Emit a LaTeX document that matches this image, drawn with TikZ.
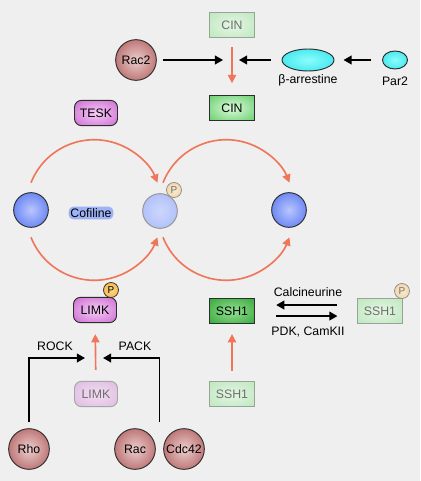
\documentclass[tikz,border=0pt]{standalone}
\usepackage{fontspec}
\setmainfont{Liberation Sans}
\usetikzlibrary{arrows.meta,calc}
\definecolor{bggray}{RGB}{239,239,239}
\definecolor{edgegray}{RGB}{45,45,45}
\definecolor{fadeedge}{RGB}{150,165,150}
\definecolor{fadetext}{RGB}{110,110,110}
\definecolor{actred}{RGB}{240,118,90}
\definecolor{gtpin}{RGB}{236,206,206}
\definecolor{gtpout}{RGB}{160,62,62}
\definecolor{cofin}{RGB}{185,198,255}
\definecolor{cofout}{RGB}{60,96,235}
\definecolor{cofpin}{RGB}{205,214,252}
\definecolor{cofpout}{RGB}{160,180,248}
\definecolor{cofglow}{RGB}{158,178,246}
\definecolor{kinin}{RGB}{246,204,246}
\definecolor{kinout}{RGB}{196,90,202}
\definecolor{kinfin}{RGB}{242,222,242}
\definecolor{kinfout}{RGB}{218,180,222}
\definecolor{grnin}{RGB}{220,250,220}
\definecolor{grnout}{RGB}{84,200,90}
\definecolor{sshin}{RGB}{150,226,150}
\definecolor{sshout}{RGB}{36,158,40}
\definecolor{grnfin}{RGB}{228,246,228}
\definecolor{grnfout}{RGB}{184,228,184}
\definecolor{cyanin}{RGB}{140,252,252}
\definecolor{cyanout}{RGB}{30,222,232}
\definecolor{pin}{RGB}{253,220,140}
\definecolor{pout}{RGB}{240,160,36}
\definecolor{pfin}{RGB}{250,234,206}
\definecolor{pfout}{RGB}{236,204,152}
\colorlet{softin}{white}
\colorlet{softout}{white}
\pgfdeclareradialshading[softin,softout]{soft}{\pgfpointorigin}{color(0bp)=(softin);color(42bp)=(softout);color(50bp)=(softout)}
\newcommand\lblfont{\fontsize{10.5}{12}\selectfont}
\tikzset{
  soft/.style 2 args={/utils/exec={\colorlet{softin}{#1}\colorlet{softout}{#2}},shading=soft},
  gtpase/.style={circle,draw=edgegray,line width=0.8pt,soft={gtpin}{gtpout},minimum size=1.22cm,inner sep=0pt,font=\lblfont},
  kinase/.style={draw=edgegray,line width=0.8pt,rounded corners=6pt,soft={kinin}{kinout},minimum width=1.29cm,minimum height=0.76cm,inner sep=0pt,font=\lblfont},
  kinoff/.style={kinase,draw=gray!70,soft={kinfin}{kinfout},text=fadetext},
  greenbox/.style={draw=edgegray,line width=0.8pt,soft={grnin}{grnout},minimum width=1.33cm,minimum height=0.76cm,inner sep=0pt,font=\lblfont},
  sshbox/.style={greenbox,soft={sshin}{sshout}},
  greenoff/.style={greenbox,draw=fadeedge,soft={grnfin}{grnfout},text=fadetext},
  cof/.style={circle,draw=edgegray,line width=0.8pt,soft={cofin}{cofout},minimum size=1.04cm,inner sep=0pt},
  cofoff/.style={cof,draw=gray!85,soft={cofpin}{cofpout}},
  arrestin/.style={ellipse,draw=edgegray,line width=0.8pt,soft={cyanin}{cyanout},inner sep=0pt},
  pbadge/.style={circle,draw=edgegray,line width=0.6pt,soft={pin}{pout},minimum size=0.45cm,inner sep=0pt,font=\fontsize{8.5}{9}\selectfont},
  pbadgeoff/.style={pbadge,draw=gray!90,soft={pfin}{pfout},text=fadetext},
  lbl/.style={font=\lblfont,inner sep=0pt},
  glow/.style={fill=cofglow,rounded corners=4pt,inner sep=1.6pt,font=\lblfont},
  sig/.style={-{Triangle[length=7pt,width=7.5pt]},line width=1.5pt,black},
  act/.style={-{Triangle[length=7pt,width=7pt]},line width=1.4pt,actred}
}
\usetikzlibrary{shapes.geometric}
\begin{document}
\begin{tikzpicture}[x=0.03cm,y=-0.03cm]
\fill[bggray] (0,0) rectangle (420,481);
% CIN activation
\node[greenoff] (cinoff) at (232,25) {CIN};
\node[greenbox] (cinon) at (232,108) {CIN};
\node[gtpase] (rac2) at (136,60) {Rac2};
\node[arrestin,minimum width=1.56cm,minimum height=0.66cm] (barr) at (308,60) {};
\node[lbl] (barrlbl) at (308,80) {β-arrestine};
\node[arrestin,minimum width=0.75cm,minimum height=0.54cm] (par2) at (395,60) {};
\node[lbl] (par2lbl) at (395,81) {Par2};
\coordinate (cinjoin) at (231,60);
\draw[sig,shorten <=5pt,shorten >=6.8pt] (rac2) -- (cinjoin);
\draw[sig,shorten <=9.4pt,shorten >=6.8pt] (barr) -- (cinjoin);
\draw[sig,shorten <=9.4pt,shorten >=7.7pt] (par2) -- (barr);
\draw[act,shorten <=7.7pt,shorten >=10pt] (cinoff) -- (cinon);
\node[kinase] (tesk) at (96,113) {TESK};
% cofiline cycle
\node[cof] (cofa) at (31,210) {};
\node[cofoff] (cofp) at (160,211) {};
\node[pbadgeoff] (pcof) at (174,190) {P};
\node[cof] (cofb) at (289,210) {};
\node[glow] (coflbl) at (91,213) {Cofiline};
\draw[act] ($(cofa.north)+(0,-9.5)$) arc[start angle=201.6,end angle=338.4,radius=68];
\draw[act] ($(cofa.south)+(0,9.5)$) arc[start angle=158.4,end angle=21.6,radius=68];
\draw[act] ($(cofp.north)+(3,-10.5)$) arc[start angle=201.6,end angle=338.4,radius=68];
\draw[act] ($(cofp.south)+(3,8.5)$) arc[start angle=158.4,end angle=21.6,radius=68];
% LIMK branch
\node[kinase] (limk) at (95,310) {LIMK};
\node[pbadge] (plimk) at (111,290) {P};
\node[kinoff] (limkoff) at (96,394) {LIMK};
\draw[act,shorten <=9.4pt,shorten >=9.4pt] (limkoff) -- (limk);
\node[gtpase] (rho) at (29,449) {Rho};
\node[gtpase] (rac) at (135,449) {Rac};
\node[gtpase] (cdc) at (184,449) {Cdc42};
\coordinate (rockend) at (85,358);
\coordinate (packend) at (103,358);
\coordinate (gtpjoin) at ($(rac.north)!0.5!(cdc.north)$);
\draw[sig] ([yshift=5pt]rho.north) |- (rockend);
\draw[sig] ([yshift=5pt]gtpjoin) |- (packend);
\node[lbl] (rocklbl) at (55,346) {ROCK};
\node[lbl] (packlbl) at (135,346) {PACK};
% SSH1 branch
\node[sshbox] (ssh) at (232,311) {SSH1};
\node[greenoff] (sshoff) at (232,394) {SSH1};
\node[greenoff] (sshp) at (380,311) {SSH1};
\node[pbadgeoff] (pssh) at (402,291) {P};
\draw[act,shorten <=8.5pt,shorten >=8.5pt] (sshoff) -- (ssh);
\draw[sig,shorten <=17pt,shorten >=18.4pt] ([yshift=5.1pt]sshp.west) -- ([yshift=5.1pt]ssh.east);
\draw[sig,shorten <=18.4pt,shorten >=17pt] ([yshift=-4.3pt]ssh.east) -- ([yshift=-4.3pt]sshp.west);
\node[lbl] (calclbl) at (308,292) {Calcineurine};
\node[lbl] (pdklbl) at (308,332) {PDK, CamKII};
\end{tikzpicture}
\end{document}
